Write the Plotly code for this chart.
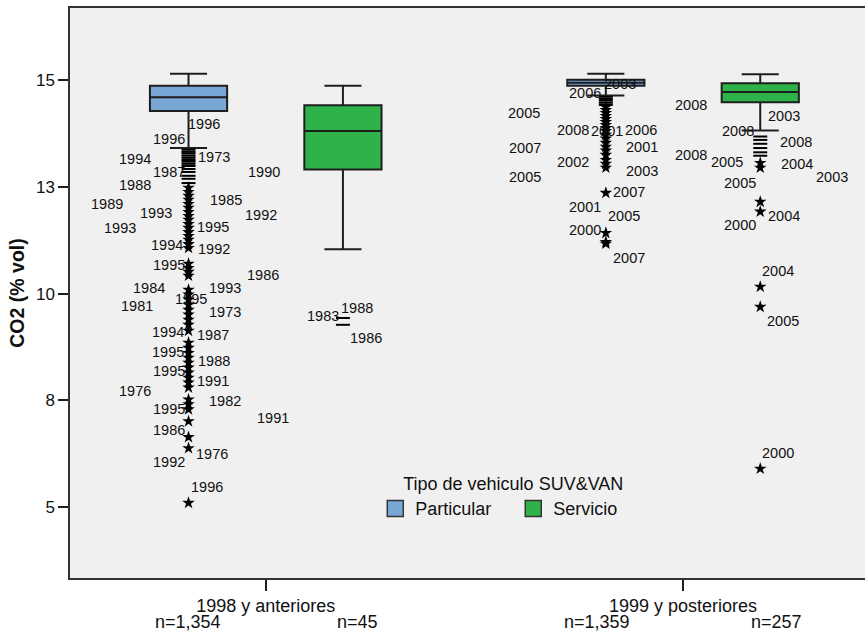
import plotly.graph_objects as go

FONT = "Liberation Sans, Arial, sans-serif"

# ---- data -----------------------------------------------------------------
categories = ["1998 y anteriores", "1999 y posteriores"]
groups = ["Particular", "Servicio"]
group_colors = ["#79A7D5", "#2EB34A"]
n_counts = [["1,354", "45"], ["1,359", "257"]]          # [category][group]
n_label_x = [[-0.187, 0.219], [0.794, 1.225]]          # where each n= sits

# Box statistics, CO2 (% vol), indexed [category][group]
upper_fence = [[15.15, 14.87], [15.15, 15.14]]
q3_vals = [[14.87, 14.41], [15.01, 14.93]]
median_vals = [[14.60, 13.81], [14.94, 14.72]]
q1_vals = [[14.28, 12.91], [14.87, 14.48]]
lower_fence = [[13.41, 11.04], [14.64, 13.82]]

# Outliers (beyond 1.5 IQR) and extremes (beyond 3 IQR)
outliers = [
    [[13.37, 13.32, 13.28, 13.23, 13.18, 13.13, 13.09, 13.04, 12.99, 12.92,
      12.85, 12.76, 12.69, 12.59],
     [9.43, 9.27]],
    [[14.61, 14.56, 14.52, 14.47, 14.42],
     [13.68, 13.60, 13.51, 13.41, 13.31, 13.23]],
]
extremes = [
    [[12.48, 12.38, 12.29, 12.20, 12.10, 12.01, 11.91, 11.82, 11.73, 11.63,
      11.54, 11.44, 11.35, 11.26, 11.16, 11.07, 10.70, 10.60, 10.51, 10.42,
      10.09, 9.98, 9.86, 9.74, 9.62, 9.51, 9.39, 9.27, 9.13, 8.85, 8.73,
      8.61, 8.50, 8.38, 8.27, 8.15, 8.03, 7.92, 7.80, 7.52, 7.41, 7.29,
      7.01, 6.64, 6.38, 5.10],
     []],
    [[14.37, 14.30, 14.23, 14.16, 14.09, 14.02, 13.95, 13.88, 13.81, 13.72,
      13.63, 13.53, 13.44, 13.35, 13.25, 13.13, 13.04, 12.95, 12.36, 11.42,
      11.21, 11.17],
     [13.06, 12.95, 12.15, 11.92, 10.16, 9.69, 5.90]],
]

# Case labels (model year) next to outlying points: text, x, y
label_text = [
    "1996", "1996", "1973", "1994", "1987", "1990", "1988", "1989", "1985",
    "1993", "1992", "1993", "1995", "1994", "1992", "1995", "1986", "1984",
    "1993", "1995", "1981", "1973", "1994", "1987", "1995", "1988", "1995",
    "1991", "1976", "1982", "1995", "1991", "1986", "1976", "1992", "1996",
    "1983", "1988", "1986",
    "2003", "2006", "2005", "2008", "2001", "2006", "2007", "2001", "2002",
    "2005", "2003", "2007", "2001", "2005", "2000", "2007",
    "2008", "2003", "2008", "2008", "2008", "2005", "2004", "2003", "2005",
    "2004", "2000", "2004", "2005", "2000",
]
label_x = [
    -0.191, -0.275, -0.167, -0.356, -0.275, -0.047, -0.356, -0.423, -0.138,
    -0.306, -0.054, -0.392, -0.169, -0.280, -0.167, -0.275, -0.050, -0.323,
    -0.141, -0.222, -0.352, -0.141, -0.277, -0.169, -0.277, -0.167, -0.275,
    -0.169, -0.356, -0.141, -0.275, -0.026, -0.275, -0.172, -0.275, -0.184,
    0.094, 0.176, 0.197,
    0.806, 0.722, 0.576, 0.693, 0.775, 0.856, 0.578, 0.859, 0.693,
    0.578, 0.859, 0.828, 0.722, 0.816, 0.722, 0.828,
    0.976, 1.199, 1.089, 1.228, 0.976, 1.062, 1.230, 1.314, 1.093,
    1.199, 1.093, 1.185, 1.197, 1.185,
]
label_y = [
    13.98, 13.63, 13.21, 13.15, 12.84, 12.84, 12.55, 12.10, 12.20,
    11.89, 11.85, 11.53, 11.57, 11.13, 11.04, 10.66, 10.44, 10.13,
    10.13, 9.88, 9.70, 9.58, 9.11, 9.03, 8.63, 8.43, 8.19,
    7.96, 7.72, 7.49, 7.30, 7.08, 6.81, 6.25, 6.05, 5.47,
    9.48, 9.66, 8.97,
    14.91, 14.70, 14.24, 13.84, 13.81, 13.84, 13.41, 13.44, 13.09,
    12.74, 12.88, 12.38, 12.02, 11.81, 11.49, 10.83,
    14.42, 14.16, 13.81, 13.54, 13.25, 13.09, 13.04, 12.73, 12.59,
    11.82, 11.61, 10.53, 9.36, 6.26,
]

# ---- layout constants -----------------------------------------------------
BOX_OFFSET = 0.185      # distance of each box from its category centre
BOX_WIDTH = 0.185
INK = "#1e1e1e"

fig = go.Figure()

for ci, cat in enumerate(categories):
    for gi, grp in enumerate(groups):
        xpos = ci + (-BOX_OFFSET if gi == 0 else BOX_OFFSET)
        fig.add_trace(go.Box(
            x=[xpos],
            q1=[q1_vals[ci][gi]], median=[median_vals[ci][gi]],
            q3=[q3_vals[ci][gi]],
            lowerfence=[lower_fence[ci][gi]],
            upperfence=[upper_fence[ci][gi]],
            width=BOX_WIDTH, whiskerwidth=0.48,
            fillcolor=group_colors[gi],
            line=dict(color=INK, width=2),
            boxpoints=False, showlegend=False, hoverinfo="skip",
            name=grp,
        ))
        if outliers[ci][gi]:
            fig.add_trace(go.Scatter(
                x=[xpos] * len(outliers[ci][gi]), y=outliers[ci][gi],
                mode="markers", showlegend=False, hoverinfo="skip",
                marker=dict(symbol="line-ew", size=10,
                            line=dict(color="black", width=2)),
            ))
        if extremes[ci][gi]:
            fig.add_trace(go.Scatter(
                x=[xpos] * len(extremes[ci][gi]), y=extremes[ci][gi],
                mode="markers", showlegend=False, hoverinfo="skip",
                marker=dict(symbol="star", size=9.5, color="black",
                            line=dict(width=0)),
            ))

# legend entries
for gi, grp in enumerate(groups):
    fig.add_trace(go.Scatter(
        x=[None], y=[None], mode="markers", name=grp,
        marker=dict(symbol="square", size=16, color=group_colors[gi],
                    line=dict(color="#333333", width=1.5)),
    ))

annotations = []
for t, x, y in zip(label_text, label_x, label_y):
    annotations.append(dict(
        x=x, y=y, xref="x", yref="y", text=t, showarrow=False,
        xanchor="left", yanchor="middle",
        font=dict(family=FONT, size=14.5, color="#111111"),
    ))

# sample sizes under each box
for ci in range(len(categories)):
    for gi in range(len(groups)):
        annotations.append(dict(
            x=n_label_x[ci][gi], y=-0.077, xref="x", yref="paper",
            text="n=" + n_counts[ci][gi], showarrow=False,
            xanchor="center", yanchor="middle",
            font=dict(family=FONT, size=18, color="#111111"),
        ))

fig.update_layout(
    width=865, height=631,
    margin=dict(l=70, r=0, t=8, b=53),
    paper_bgcolor="white", plot_bgcolor="#F0F0F0",
    font=dict(family=FONT, color="#111111"),
    boxmode="overlay",
    showlegend=True,
    legend=dict(
        orientation="h", x=0.384, xanchor="left", y=0.195, yanchor="top",
        entrywidth=93, entrywidthmode="pixels",
        bgcolor="rgba(0,0,0,0)",
        title=dict(text="Tipo de vehiculo SUV&VAN", side="top center",
                   font=dict(family=FONT, size=18)),
        font=dict(family=FONT, size=18),
    ),
    xaxis=dict(
        range=[-0.469, 1.436], tickvals=[0, 1], ticktext=categories,
        ticks="outside", ticklen=11, tickwidth=2, tickcolor=INK,
        showline=True, linecolor="#333333", linewidth=1.5, mirror=True,
        showgrid=False, zeroline=False,
        tickfont=dict(family=FONT, size=18, color="#111111"),
    ),
    yaxis=dict(
        range=[3.34, 16.69], tick0=0, dtick=2.5, tickformat=".0f",
        ticks="outside", ticklen=10, tickwidth=2, tickcolor=INK,
        showline=True, linecolor="#333333", linewidth=1.5,
        showgrid=False, zeroline=False,
        tickfont=dict(family=FONT, size=17, color="#111111"),
        title=dict(text="CO2 (% vol)", standoff=6,
                   font=dict(family=FONT, size=19.5, weight="bold",
                             color="#111111")),
    ),
    annotations=annotations,
)

fig.write_html("out.html")
